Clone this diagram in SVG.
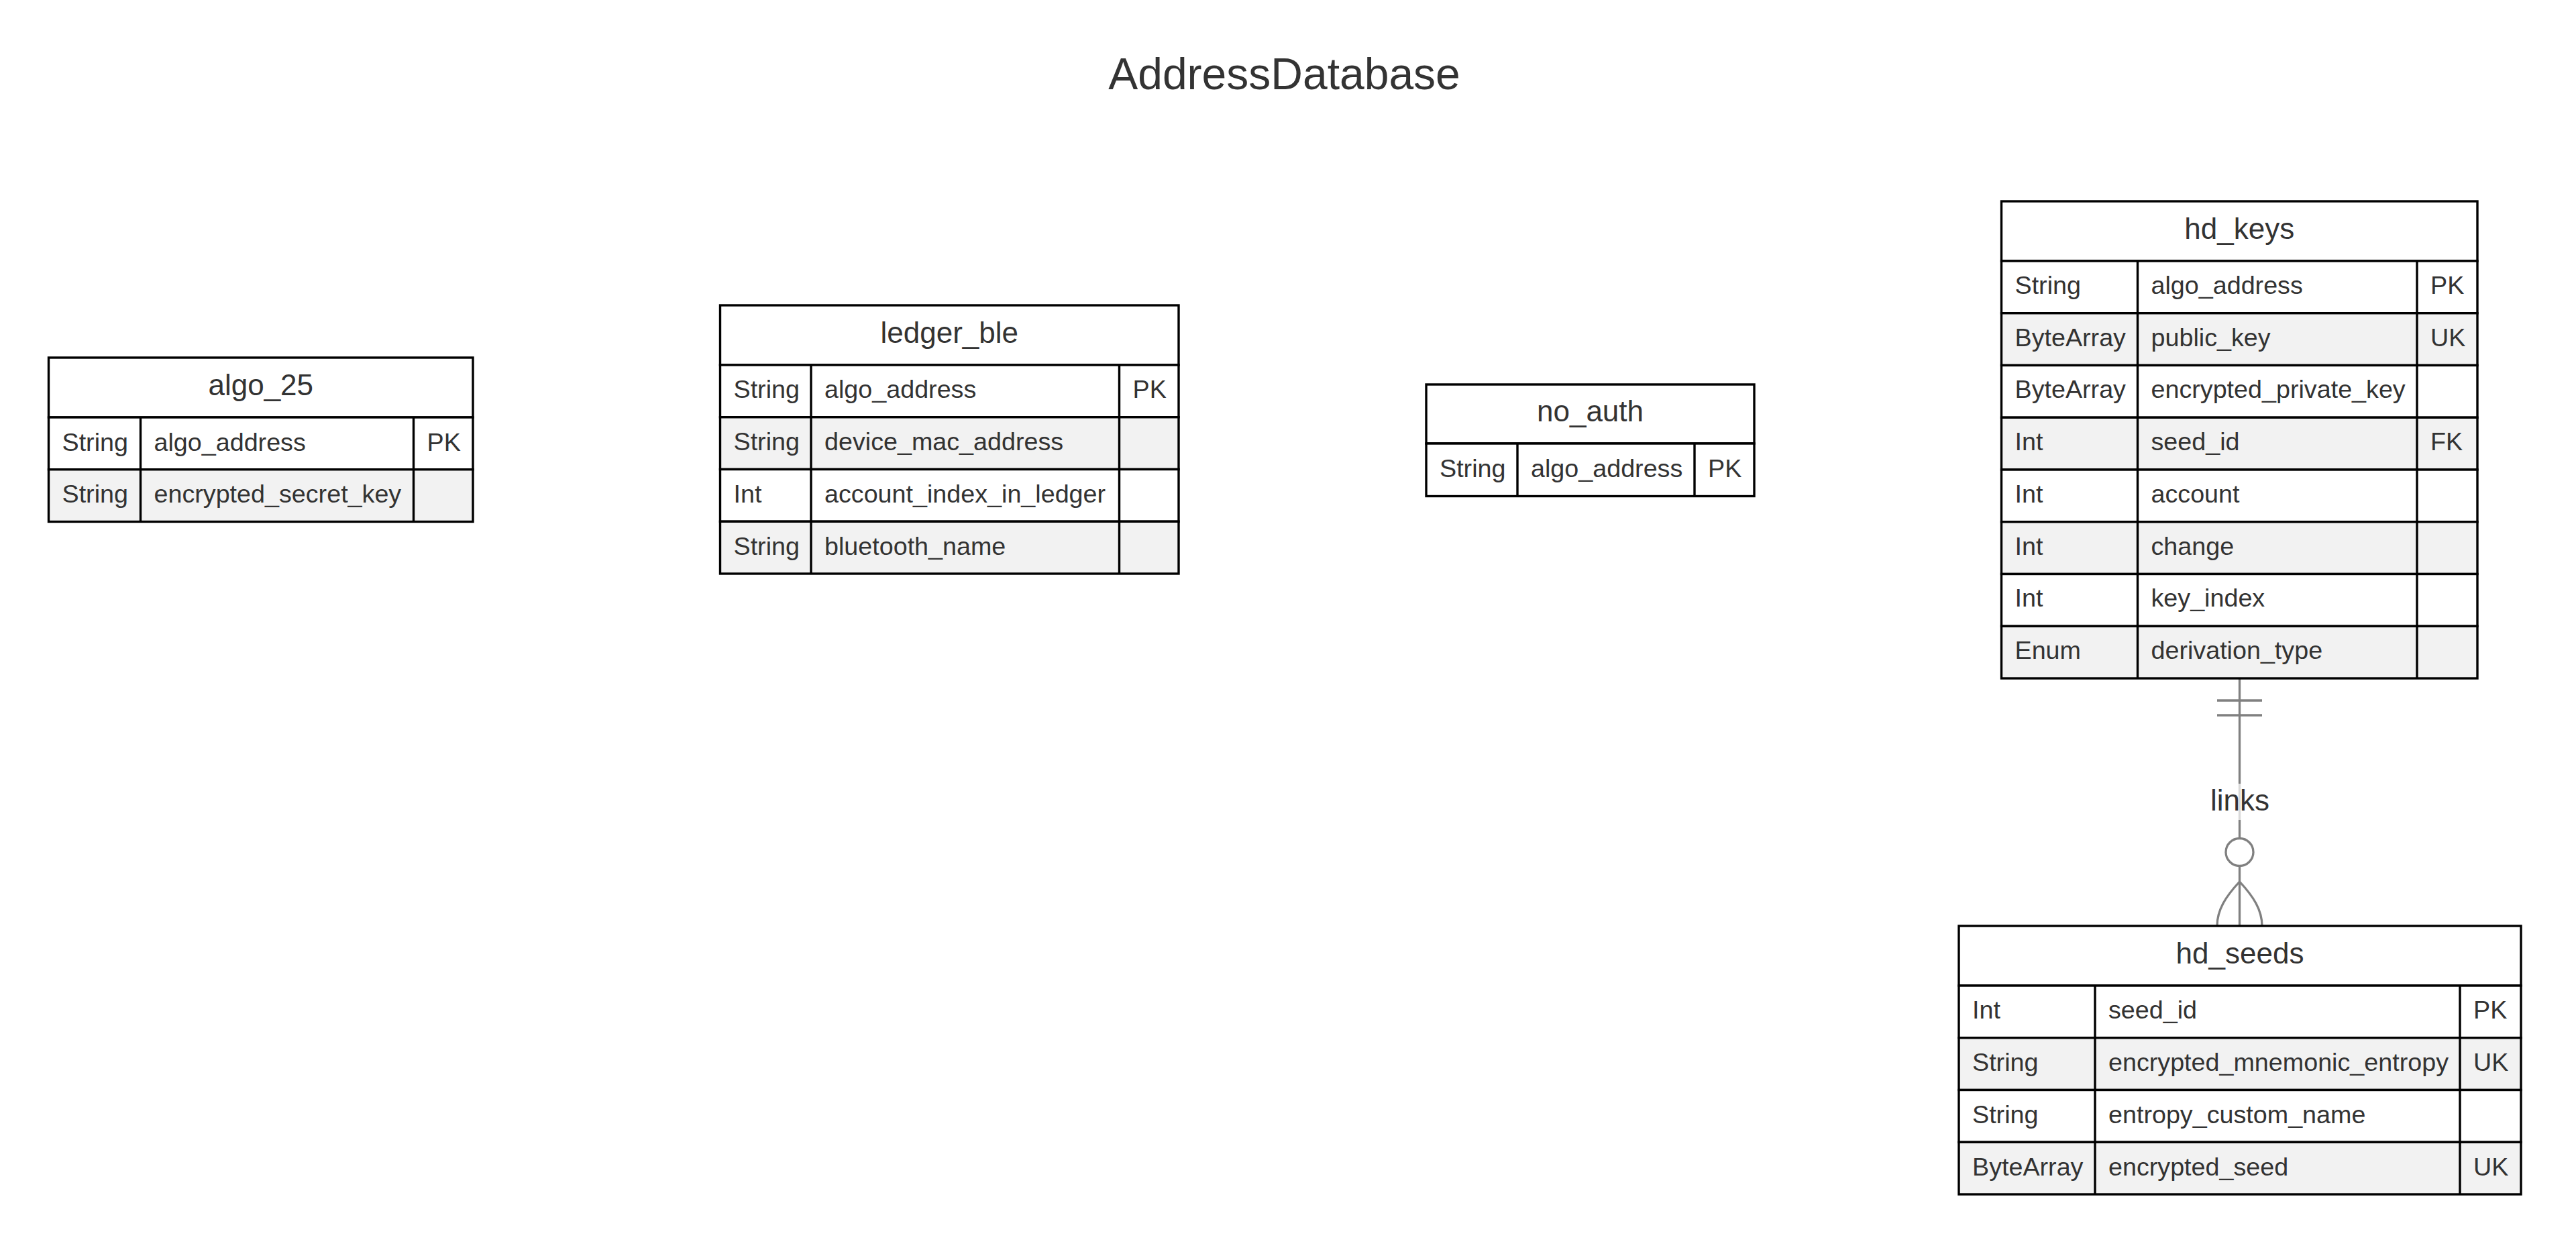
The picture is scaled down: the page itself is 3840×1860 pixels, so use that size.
<svg xmlns="http://www.w3.org/2000/svg" width="3840" height="1860" viewBox="0 0 3840 1860">
<style>
text{font-family:"Liberation Sans",Arial,sans-serif;fill:#333}
.title{font-size:66px;text-anchor:middle}
.ename{font-size:44px;text-anchor:middle}
.attr{font-size:37.7px}
.hdr{fill:#fff;stroke:#000;stroke-width:3.4}
.odd{fill:#fff;stroke:#000;stroke-width:3.4}
.even{fill:#f2f2f2;stroke:#000;stroke-width:3.4}
.col{stroke:#000;stroke-width:3.4}
.rel{stroke:#808080;stroke-width:3.3;fill:none}
.lbl{font-size:44px;text-anchor:middle}
</style>
<rect width="3840" height="1860" fill="#fff"/>
<text class="title" x="1914.5" y="133">AddressDatabase</text>

<g id="connectors">
<line class="rel" x1="3338.5" y1="1011" x2="3338.5" y2="1249.5"/>
<line class="rel" x1="3338.5" y1="1290.5" x2="3338.5" y2="1380"/>
<line class="rel" x1="3305" y1="1044" x2="3372" y2="1044"/>
<line class="rel" x1="3305" y1="1066" x2="3372" y2="1066"/>
<circle class="rel" cx="3338.5" cy="1270" r="20.5" fill="#fff"/>
<path class="rel" d="M3338.5,1314 C3318,1336 3305,1356 3305,1380"/>
<path class="rel" d="M3338.5,1314 C3359,1336 3372,1356 3372,1380"/>
<rect x="3294" y="1168" width="89" height="54" fill="#fff" opacity="0.7"/>
<text class="lbl" x="3339" y="1207.5">links</text>
</g>

<g id="algo_25">
<rect class="hdr" x="72.5" y="533" width="632.5" height="89"/>
<text class="ename" x="388.75" y="588.5">algo_25</text>
<rect class="odd" x="72.5" y="622" width="632.5" height="77.75"/>
<rect class="even" x="72.5" y="699.75" width="632.5" height="77.75"/>
<line class="col" x1="209.5" y1="622" x2="209.5" y2="777.5"/>
<line class="col" x1="616.5" y1="622" x2="616.5" y2="777.5"/>
<text class="attr" x="92.5" y="671.5">String</text><text class="attr" x="229.5" y="671.5">algo_address</text><text class="attr" x="636.5" y="671.5">PK</text>
<text class="attr" x="92.5" y="749.1">String</text><text class="attr" x="229.5" y="749.1">encrypted_secret_key</text>
</g>

<g id="ledger_ble">
<rect class="hdr" x="1073.5" y="455" width="683.5" height="89"/>
<text class="ename" x="1415.25" y="510.5">ledger_ble</text>
<rect class="odd" x="1073.5" y="544" width="683.5" height="77.75"/>
<rect class="even" x="1073.5" y="621.75" width="683.5" height="77.75"/>
<rect class="odd" x="1073.5" y="699.5" width="683.5" height="77.75"/>
<rect class="even" x="1073.5" y="777.25" width="683.5" height="77.75"/>
<line class="col" x1="1209" y1="544" x2="1209" y2="855"/>
<line class="col" x1="1668.5" y1="544" x2="1668.5" y2="855"/>
<text class="attr" x="1093.5" y="593.4">String</text><text class="attr" x="1229" y="593.4">algo_address</text><text class="attr" x="1688.5" y="593.4">PK</text>
<text class="attr" x="1093.5" y="671.1">String</text><text class="attr" x="1229" y="671.1">device_mac_address</text>
<text class="attr" x="1093.5" y="748.9">Int</text><text class="attr" x="1229" y="748.9">account_index_in_ledger</text>
<text class="attr" x="1093.5" y="826.6">String</text><text class="attr" x="1229" y="826.6">bluetooth_name</text>
</g>

<g id="no_auth">
<rect class="hdr" x="2126" y="573" width="489" height="88"/>
<text class="ename" x="2370.5" y="628">no_auth</text>
<rect class="odd" x="2126" y="661" width="489" height="78.5"/>
<line class="col" x1="2262" y1="661" x2="2262" y2="739.5"/>
<line class="col" x1="2526" y1="661" x2="2526" y2="739.5"/>
<text class="attr" x="2146" y="710.5">String</text><text class="attr" x="2282" y="710.5">algo_address</text><text class="attr" x="2546" y="710.5">PK</text>
</g>

<g id="hd_keys">
<rect class="hdr" x="2983.5" y="300" width="709.5" height="89"/>
<text class="ename" x="3338.25" y="355.5">hd_keys</text>
<rect class="odd" x="2983.5" y="389" width="709.5" height="77.75"/>
<rect class="even" x="2983.5" y="466.75" width="709.5" height="77.75"/>
<rect class="odd" x="2983.5" y="544.5" width="709.5" height="77.75"/>
<rect class="even" x="2983.5" y="622.25" width="709.5" height="77.75"/>
<rect class="odd" x="2983.5" y="700" width="709.5" height="77.75"/>
<rect class="even" x="2983.5" y="777.75" width="709.5" height="77.75"/>
<rect class="odd" x="2983.5" y="855.5" width="709.5" height="77.75"/>
<rect class="even" x="2983.5" y="933.25" width="709.5" height="77.75"/>
<line class="col" x1="3186.5" y1="389" x2="3186.5" y2="1011"/>
<line class="col" x1="3603" y1="389" x2="3603" y2="1011"/>
<text class="attr" x="3003.5" y="437.9">String</text><text class="attr" x="3206.5" y="437.9">algo_address</text><text class="attr" x="3623" y="437.9">PK</text>
<text class="attr" x="3003.5" y="515.6">ByteArray</text><text class="attr" x="3206.5" y="515.6">public_key</text><text class="attr" x="3623" y="515.6">UK</text>
<text class="attr" x="3003.5" y="593.4">ByteArray</text><text class="attr" x="3206.5" y="593.4">encrypted_private_key</text>
<text class="attr" x="3003.5" y="671.1">Int</text><text class="attr" x="3206.5" y="671.1">seed_id</text><text class="attr" x="3623" y="671.1">FK</text>
<text class="attr" x="3003.5" y="748.9">Int</text><text class="attr" x="3206.5" y="748.9">account</text>
<text class="attr" x="3003.5" y="826.6">Int</text><text class="attr" x="3206.5" y="826.6">change</text>
<text class="attr" x="3003.5" y="904.4">Int</text><text class="attr" x="3206.5" y="904.4">key_index</text>
<text class="attr" x="3003.5" y="982.1">Enum</text><text class="attr" x="3206.5" y="982.1">derivation_type</text>
</g>

<g id="hd_seeds">
<rect class="hdr" x="2920" y="1380" width="838" height="89"/>
<text class="ename" x="3339" y="1435.5">hd_seeds</text>
<rect class="odd" x="2920" y="1469" width="838" height="77.75"/>
<rect class="even" x="2920" y="1546.75" width="838" height="77.75"/>
<rect class="odd" x="2920" y="1624.5" width="838" height="77.75"/>
<rect class="even" x="2920" y="1702.25" width="838" height="77.75"/>
<line class="col" x1="3123" y1="1469" x2="3123" y2="1780"/>
<line class="col" x1="3667" y1="1469" x2="3667" y2="1780"/>
<text class="attr" x="2940" y="1518.4">Int</text><text class="attr" x="3143" y="1518.4">seed_id</text><text class="attr" x="3687" y="1518.4">PK</text>
<text class="attr" x="2940" y="1596.1">String</text><text class="attr" x="3143" y="1596.1">encrypted_mnemonic_entropy</text><text class="attr" x="3687" y="1596.1">UK</text>
<text class="attr" x="2940" y="1673.9">String</text><text class="attr" x="3143" y="1673.9">entropy_custom_name</text>
<text class="attr" x="2940" y="1751.6">ByteArray</text><text class="attr" x="3143" y="1751.6">encrypted_seed</text><text class="attr" x="3687" y="1751.6">UK</text>
</g>
</svg>
